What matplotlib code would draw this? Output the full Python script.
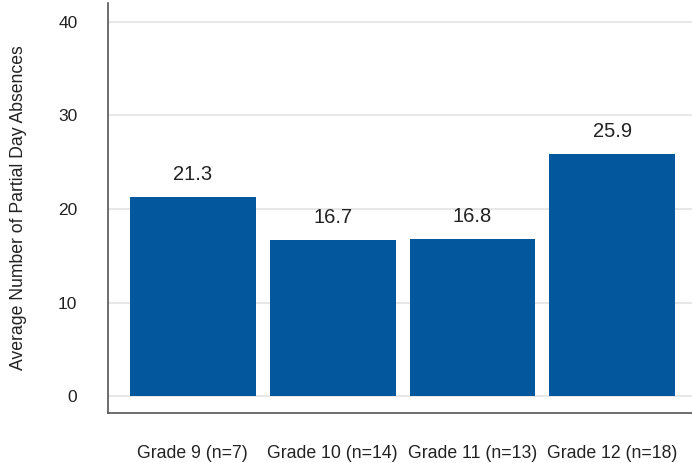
import matplotlib.pyplot as plt

plt.rcParams['font.family'] = ['Liberation Sans', 'DejaVu Sans']

grades = ['Grade 9 (n=7)', 'Grade 10 (n=14)', 'Grade 11 (n=13)', 'Grade 12 (n=18)']
absences = [21.3, 16.7, 16.8, 25.9]
yticks = [0, 10, 20, 30, 40]

fig = plt.figure(figsize=(6.92, 4.63), dpi=100)
ax = fig.add_axes([0.156, 0.108, 0.844, 0.8855])

x = list(range(len(grades)))
bars = ax.bar(x, absences, width=0.9, color='#03589d', zorder=2)
for xi, v in zip(x, absences):
    ax.text(xi, v + 1.4, f'{v:.1f}', ha='center', va='bottom', fontsize=14.5, color='#222222')

ax.set_xlim(-0.607, 3.57)
ax.set_ylim(-1.8, 42)
ax.set_yticks(yticks)
ax.set_xticks(x)
ax.set_xticklabels(grades)
ax.yaxis.grid(True, color='#e3e3e3', linewidth=1.2, zorder=0)
ax.tick_params(axis='both', length=0, labelsize=12.7, colors='#222222')
ax.tick_params(axis='y', pad=22, labelsize=12.5)
ax.tick_params(axis='x', pad=23)
ax.set_ylabel('Average Number of Partial Day Absences', fontsize=12.7, color='#222222', labelpad=22)

for side in ['top', 'right']:
    ax.spines[side].set_visible(False)
for side in ['left', 'bottom']:
    ax.spines[side].set_color('#555555')
    ax.spines[side].set_linewidth(1.2)

fig.savefig('out.png', dpi=100)
